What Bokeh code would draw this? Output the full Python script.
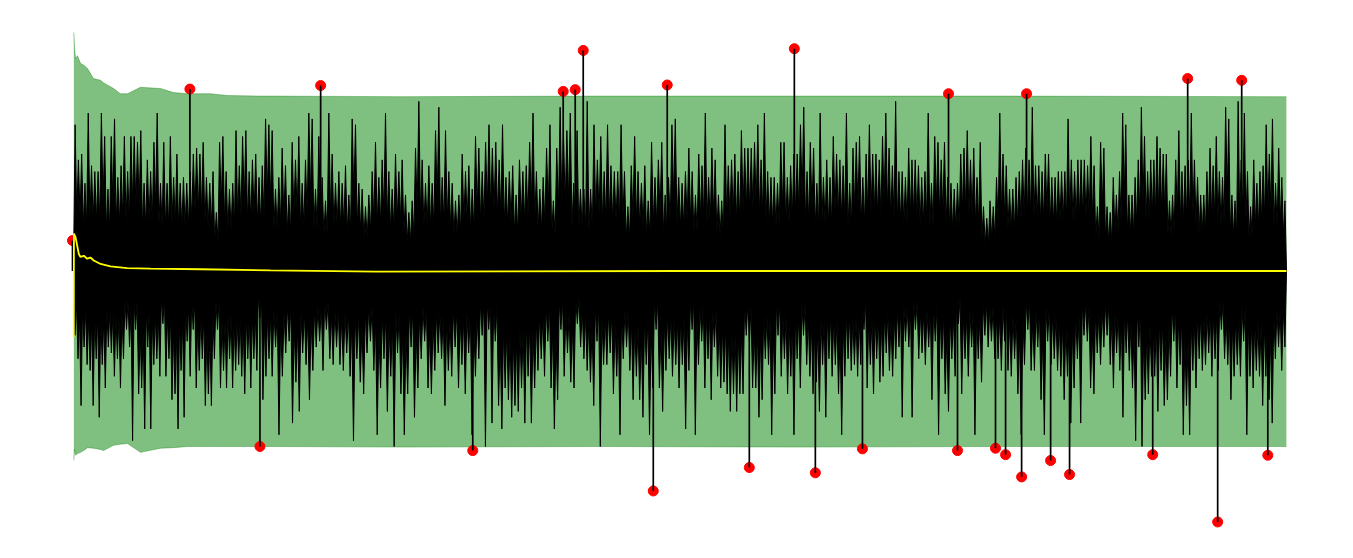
from bokeh.plotting import figure
from bokeh.models import Range1d
from bokeh.embed import file_html
from bokeh.resources import INLINE

# ---------------- data (sample index on x, signal in units of sigma on y) -------------
N_SAMPLES = 10000
SEGMENT_BOUNDS = [8, 1631, 3361, 5091, 6821, 8509, 10000]

# upper spike tips of the signal, read segment by segment
TOP_1 = [2.5, 1.9, 2.0, 1.5, 2.7, 1.8, 1.7, 1.7, 2.7, 2.3, 1.4, 2.3, 2.6, 1.6, 1.8, 2.3, 1.7, 2.3, 2.3, 2.2,
         2.4, 1.5, 1.9, 1.7, 2.2, 2.7, 1.5, 2.2, 1.5, 2.3, 1.6, 2.0, 1.5, 1.6, 1.5, 1.7, 2.0, 2.1, 2.0, 2.2,
         1.6, 1.5, 1.7, 1.0, 2.2, 2.3, 1.7, 1.4, 1.5, 2.4, 1.8, 2.3, 2.4, 1.7, 1.9, 2.0, 1.6, 1.8, 2.6, 2.5]
TOP_2 = [2.4, 1.4, 1.6, 2.1, 1.8, 1.3, 2.2, 1.9, 2.3, 1.5, 1.9, 2.7, 2.6, 1.4, 2.3, 1.6, 1.2, 2.7, 2.0, 1.5,
         1.7, 1.5, 1.8, 1.3, 2.6, 2.5, 1.5, 1.4, 1.1, 1.3, 1.7, 2.2, 1.6, 1.9, 2.7, 1.7, 1.4, 2.0, 1.7, 1.9,
         1.3, 1.0, 1.2, 2.1, 2.9, 1.9, 1.5, 1.8, 1.5, 2.4, 2.8, 1.6, 2.4, 1.7, 1.5, 1.2, 1.3, 2.0, 1.7, 1.8,
         1.4, 2.3, 2.1]
TOP_3 = [1.7, 2.2, 2.5, 2.1, 2.2, 1.9, 2.5, 1.6, 1.7, 1.8, 1.3, 1.9, 1.7, 1.8, 2.2, 2.7, 1.7, 1.4, 1.6, 2.1,
         2.5, 1.2, 2.1, 2.8, 2.3, 2.4, 2.7, 1.5, 2.4, 1.4, 1.4, 2.9, 1.4, 2.5, 1.9, 2.3, 1.7, 2.5, 1.8, 1.7,
         1.7, 2.5, 1.7, 1.1, 1.8, 2.3, 1.7, 1.5, 1.8, 1.2, 2.2, 1.6, 1.9, 2.2, 1.3, 1.6, 2.5, 2.6, 1.6, 1.5,
         1.7, 2.1]
TOP_4 = [1.7, 1.3, 2.0, 1.8, 2.7, 1.6, 2.1, 1.9, 1.3, 1.2, 2.5, 1.8, 1.9, 2.0, 1.7, 2.4, 2.1, 2.1, 2.1, 2.2,
         2.5, 1.9, 2.7, 1.7, 1.6, 1.6, 1.5, 2.2, 2.2, 1.6, 1.8, 2.0, 2.0, 2.5, 2.8, 1.7, 2.2, 2.1, 1.5, 2.7,
         1.6, 1.9, 1.6, 2.3, 2.0, 1.9, 1.8, 2.7, 1.5, 2.1, 2.2, 2.3, 1.6, 2.0, 2.5, 2.0, 2.0, 1.9, 2.3, 2.7,
         2.1, 1.8, 2.9, 1.7]
TOP_5 = [1.7, 1.6, 2.1, 1.9, 1.9, 1.8, 1.6, 1.7, 2.7, 1.5, 2.3, 2.2, 1.9, 2.2, 1.6, 1.5, 1.4, 1.5, 2.0, 2.1,
         2.4, 1.9, 2.1, 1.6, 2.2, 1.1, 0.9, 1.2, 1.1, 1.6, 2.7, 2.0, 1.8, 1.4, 1.4, 1.6, 1.7, 1.9, 2.1, 1.9,
         2.8, 1.8, 1.8, 1.7, 2.0, 2.0, 1.6, 1.6, 1.7, 1.7, 1.7, 2.6, 1.9, 1.7, 1.9, 1.9, 1.9, 1.8, 2.3, 1.8,
         1.1, 2.2, 2.1]
TOP_6 = [1.1, 1.0, 1.6, 1.3, 1.7, 2.7, 2.5, 1.3, 1.3, 1.6, 1.9, 2.8, 2.3, 1.7, 1.9, 1.9, 2.3, 2.1, 2.0, 2.0,
         1.2, 1.3, 1.9, 2.4, 1.7, 1.8, 1.9, 2.7, 1.9, 1.6, 1.3, 1.3, 1.7, 2.1, 1.8, 2.3, 1.7, 1.6, 2.8, 2.6,
         1.3, 1.2, 2.9, 1.9, 2.7, 1.7, 1.1, 1.9, 1.5, 1.7, 1.8, 2.5, 2.0, 2.6, 1.5, 2.1, 1.6, 1.2]

# lower spike tips of the signal
BOT_1 = [-1.1, -1.5, -2.3, -1.3, -1.6, -1.7, -2.3, -1.5, -2.5, -1.6, -2.0, -1.3, -1.4, -1.8, -1.5, -2.0,
         -1.5, -1.0, -1.3, -2.9, -1.0, -2.1, -2.0, -2.7, -1.3, -2.7, -1.6, -1.5, -1.8, -0.9, -1.8, -1.5,
         -2.2, -2.1, -2.7, -1.7, -2.5, -1.2, -1.8, -1.0, -2.0, -1.7, -1.5, -2.3, -2.1, -2.3, -1.5, -1.0,
         -2.0, -1.7, -2.0, -1.5, -2.0, -1.7, -1.6, -1.8, -2.1, -1.5, -2.0, -1.5, -1.7, -0.8, -2.2, -1.8, -1.5]
BOT_2 = [-1.8, -1.3, -2.8, -1.8, -1.4, -1.2, -2.6, -1.9, -2.4, -1.4, -1.6, -2.2, -1.7, -1.3, -1.2, -1.7,
         -1.0, -1.5, -1.6, -1.3, -1.6, -1.7, -1.4, -1.8, -2.9, -1.5, -1.9, -2.1, -1.4, -1.2, -1.7, -2.8,
         -2.0, -1.5, -2.4, -1.8, -3.0, -1.4, -2.1, -2.8, -2.1, -1.3, -2.5, -2.0, -1.5, -1.2, -2.0, -2.1,
         -1.7, -1.4, -1.5, -2.3, -1.7, -1.8, -1.3, -2.0, -1.6, -2.1, -1.4, -2.8, -1.8, -1.5]
BOT_3 = [-1.1, -3.0, -1.0, -2.6, -1.2, -2.3, -2.7, -2.0, -2.2, -2.5, -2.3, -2.4, -2.0, -2.6, -1.8, -2.6,
         -2.0, -1.7, -1.5, -1.8, -1.2, -2.0, -2.7, -2.2, -1.0, -1.8, -1.4, -1.9, -2.0, -0.9, -1.3, -1.5,
         -1.7, -1.9, -2.3, -1.2, -3.0, -1.6, -1.6, -1.4, -2.1, -1.8, -2.8, -1.5, -1.3, -1.7, -2.2, -1.8,
         -2.2, -2.5, -1.6, -2.8, -2.0, -1.0, -2.0, -2.4, -1.7, -1.5, -1.8, -1.6, -2.0, -1.6, -2.7, -1.7]
BOT_4 = [-1.0, -2.8, -1.6, -1.2, -2.0, -1.5, -2.2, -1.3, -1.8, -2.0, -1.9, -2.1, -2.4, -2.1, -2.4, -2.1,
         -2.1, -1.1, -1.2, -2.0, -2.0, -2.5, -2.2, -1.5, -1.6, -2.8, -2.1, -1.1, -1.8, -1.5, -2.1, -1.8,
         -2.8, -1.5, -2.0, -1.1, -1.6, -1.8, -2.1, -1.9, -2.4, -1.6, -2.5, -1.5, -1.8, -1.6, -2.1, -2.8,
         -1.8, -1.5, -1.7, -1.6, -1.8, -1.6, -1.0, -2.0, -1.6, -2.1, -1.5, -1.9, -1.8, -1.4, -1.7, -1.8,
         -1.5, -1.3]
BOT_5 = [-2.5, -1.2, -1.3, -2.5, -1.0, -1.5, -1.4, -1.6, -1.3, -2.2, -1.2, -2.8, -1.5, -2.1, -2.4, -1.5,
         -1.8, -0.9, -2.1, -1.5, -1.8, -1.3, -2.8, -1.5, -1.9, -1.1, -1.3, -1.2, -1.5, -1.5, -1.7, -1.2,
         -1.7, -1.8, -1.5, -2.1, -2.8, -1.6, -1.0, -1.7, -1.7, -1.3, -2.2, -2.8, -1.2, -1.6, -1.5, -1.7,
         -1.8, -2.2, -1.8, -2.6, -2.0, -1.5, -2.6, -1.1, -1.2, -2.0, -2.1, -1.4, -1.6, -1.3]
BOT_6 = [-1.1, -1.6, -2.0, -1.4, -1.7, -2.5, -1.4, -1.7, -2.0, -2.9, -1.3, -3.0, -2.2, -2.1, -1.8, -1.8,
         -2.4, -1.7, -2.3, -2.2, -1.8, -1.2, -2.0, -1.6, -2.8, -2.3, -2.8, -1.7, -2.0, -1.5, -1.7, -1.6,
         -1.4, -1.8, -1.5, -1.7, -1.0, -1.5, -1.6, -2.2, -1.8, -1.6, -1.8, -1.2, -2.8, -1.8, -2.0, -1.7,
         -1.8, -2.3, -1.8, -2.2, -2.6, -1.5, -1.3, -1.7, -1.3]

# running mean (yellow)
MEAN_X = [10, 12, 25, 52, 66, 93, 121, 148, 175, 231, 313, 450, 643, 1054, 1631, 2500, 5000, 10000]
MEAN_V = [-1.13, 0.64, 0.58, 0.29, 0.24, 0.26, 0.21, 0.23, 0.18, 0.12, 0.08, 0.05, 0.04, 0.03, 0.01,
          -0.01, 0.0, 0.0]

# band (green): mean +/- 3 running std
BAND_X = [11, 16, 25, 41, 66, 99, 124, 173, 231, 255, 338, 395, 453, 560, 725, 832, 947, 997, 1137,
          1277, 1549, 1631, 2702, 4349, 5996, 7644, 9999]
BAND_HI = [4.08, 3.85, 3.63, 3.68, 3.55, 3.51, 3.46, 3.29, 3.26, 3.22, 3.12, 3.03, 3.03, 3.14, 3.12,
           3.05, 3.03, 3.03, 3.03, 3.0, 2.99, 2.99, 2.98, 2.99, 2.99, 2.99, 2.98]
BAND_LO = [-3.24, -3.05, -3.15, -3.12, -3.10, -3.06, -3.02, -3.03, -3.05, -3.07, -2.98, -2.96, -2.95,
           -3.10, -3.03, -3.02, -3.0, -3.0, -3.0, -3.0, -3.0, -3.0, -3.01, -3.0, -3.01, -3.0, -3.0]

# outliers (red)
OUT_X = [0, 967, 2044, 4042, 4141, 4207, 4899, 5946, 7216, 7859, 9186, 9631, 1544, 3297, 4784, 5575,
         6119, 6507, 7290, 7603, 7686, 7818, 8057, 8213, 8898, 9433, 9846]
OUT_V = [0.52, 3.11, 3.17, 3.07, 3.10, 3.77, 3.18, 3.80, 3.03, 3.03, 3.29, 3.26, -3.00, -3.07, -3.76,
         -3.36, -3.45, -3.04, -3.07, -3.03, -3.14, -3.52, -3.24, -3.48, -3.14, -4.29, -3.15]

# ---------------- geometry helpers -------------
VALLEY_FRACTION = 0.5


def tips_positions(segments):
    xs, vs = [], []
    for k, seg in enumerate(segments):
        a, b = SEGMENT_BOUNDS[k], SEGMENT_BOUNDS[k + 1]
        n = len(seg)
        for i, v in enumerate(seg):
            xs.append(a + (i + 0.5) * (b - a) / n)
            vs.append(v)
    return xs, vs


def envelope(xs, vs, sign):
    zx, zy = [SEGMENT_BOUNDS[0]], [0.0]
    for i in range(len(xs)):
        zx.append(xs[i])
        zy.append(vs[i])
        if i < len(xs) - 1:
            zx.append((xs[i] + xs[i + 1]) / 2)
            zy.append(sign * VALLEY_FRACTION * min(abs(vs[i]), abs(vs[i + 1])))
    zx.append(SEGMENT_BOUNDS[-1])
    zy.append(0.0)
    return zx, zy


top_x, top_v = tips_positions([TOP_1, TOP_2, TOP_3, TOP_4, TOP_5, TOP_6])
bot_x, bot_v = tips_positions([BOT_1, BOT_2, BOT_3, BOT_4, BOT_5, BOT_6])
tzx, tzy = envelope(top_x, top_v, 1)
bzx, bzy = envelope(bot_x, bot_v, -1)

# ---------------- figure -------------
W, H = 1337, 542
PX_PER_SAMPLE = 1214 / N_SAMPLES
X_ORIGIN_PX = 72.0      # where sample 0 sits, from the left edge of the canvas
x0 = -X_ORIGIN_PX / PX_PER_SAMPLE
x1 = x0 + W / PX_PER_SAMPLE
PX_PER_SIGMA = 58.5
ZERO_PX = 270.5         # where the zero line sits, from the top edge of the canvas
y1 = ZERO_PX / PX_PER_SIGMA
y0 = y1 - H / PX_PER_SIGMA

p = figure(width=W, height=H, output_backend="svg", toolbar_location=None,
           x_range=Range1d(x0, x1), y_range=Range1d(y0, y1), min_border=0)
p.axis.visible = False
p.grid.visible = False
p.outline_line_color = None
p.background_fill_color = "white"
p.border_fill_color = "white"

p.varea(x=BAND_X, y1=BAND_LO, y2=BAND_HI, fill_color="green", fill_alpha=0.5)
p.line(BAND_X, BAND_HI, line_color="green", line_alpha=0.35, line_width=1)
p.line(BAND_X, BAND_LO, line_color="green", line_alpha=0.35, line_width=1)

p.scatter(OUT_X, OUT_V, size=10, fill_color="red", line_color="red")

p.varea(x=tzx, y1=[-0.05] * len(tzx), y2=tzy, fill_color="black")
p.varea(x=bzx, y1=[0.05] * len(bzx), y2=bzy, fill_color="black")
p.line(tzx, tzy, line_color="black", line_width=1.0)
p.line(bzx, bzy, line_color="black", line_width=1.0)
p.segment(x0=OUT_X, y0=[0.0] * len(OUT_X), x1=OUT_X, y1=OUT_V, line_color="black", line_width=1.7)

p.line(MEAN_X, MEAN_V, line_color="yellow", line_width=1.8)

open("out.html", "w").write(file_html(p, INLINE))
